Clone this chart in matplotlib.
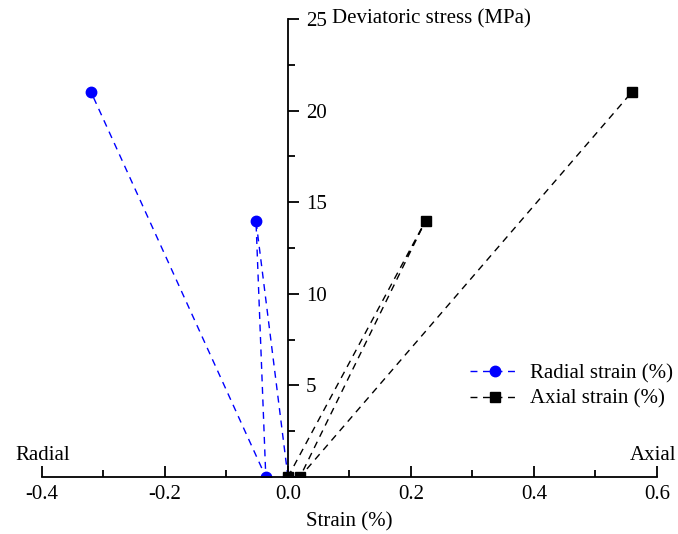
"""Radial and axial strain versus deviatoric stress."""

import matplotlib.pyplot as plt
from matplotlib.ticker import MultipleLocator, FormatStrFormatter

plt.rcParams["font.family"] = ["Liberation Serif", "DejaVu Serif"]
plt.rcParams["font.size"] = 15

radial_strain = [0.0, -0.052, -0.036, -0.320]
radial_stress = [0.0, 14.0, 0.0, 21.0]
axial_strain = [0.0, 0.224, 0.0195, 0.559]
axial_stress = [0.0, 14.0, 0.0, 21.0]

figure = plt.figure(figsize=(6.78, 5.34), dpi=100)
axis = figure.add_axes([0.0619, 0.1067, 0.907, 0.8577])

axis.plot(radial_strain, radial_stress, color="blue", linestyle=(0, (5, 4)),
          linewidth=1, marker="o", markersize=7.5, label="Radial strain (%)")
axis.plot(axial_strain, axial_stress, color="black", linestyle=(0, (5, 4)),
          linewidth=1, marker="s", markersize=6.5, label="Axial strain (%)")

axis.set_xlim(-0.4, 0.6)
axis.set_ylim(0, 25)

axis.spines["top"].set_visible(False)
axis.spines["left"].set_visible(False)
axis.spines["right"].set_position(("data", 0))
axis.spines["bottom"].set_linewidth(1.3)
axis.spines["right"].set_linewidth(1.3)

axis.yaxis.tick_right()
axis.yaxis.set_major_locator(MultipleLocator(5))
axis.yaxis.set_minor_locator(MultipleLocator(2.5))
axis.yaxis.set_major_formatter(
    plt.FuncFormatter(lambda value, _: "" if value == 0 else f"{value:.0f}")
)
axis.tick_params(axis="y", which="major", direction="out", length=8, width=1.3, pad=5)
axis.tick_params(axis="y", which="minor", direction="out", length=5, width=1.3)

axis.xaxis.set_major_locator(MultipleLocator(0.2))
axis.xaxis.set_minor_locator(MultipleLocator(0.1))
axis.xaxis.set_major_formatter(FormatStrFormatter("%.1f"))
axis.tick_params(axis="x", which="major", direction="in", length=8, width=1.3, pad=6)
axis.tick_params(axis="x", which="minor", direction="in", length=5, width=1.3)

axis.set_xlabel("Strain (%)", labelpad=6)
axis.text(0.0715, 25, "Deviatoric stress (MPa)", ha="left", va="center")

figure.text(15 / 678, 1 - 456 / 534, "Radial", ha="left", va="center")
figure.text(676 / 678, 1 - 456 / 534, "Axial", ha="right", va="center")

axis.legend(loc="upper left", bbox_to_anchor=(0.696, 0.248), frameon=False,
            handlelength=2.4, handletextpad=0.5, labelspacing=0.3,
            borderaxespad=0, borderpad=0)

figure.savefig("out.png", dpi=100)
